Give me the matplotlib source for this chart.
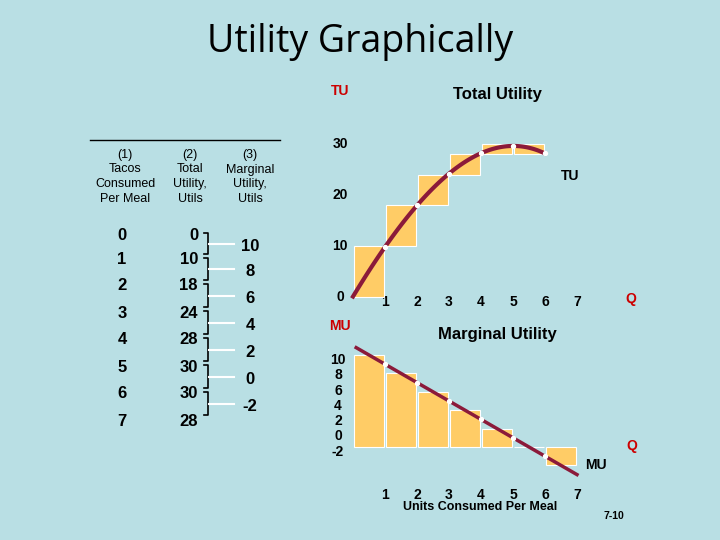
import matplotlib
matplotlib.use("Agg")
import matplotlib.pyplot as plt
import numpy as np

units = [0, 1, 2, 3, 4, 5, 6, 7]
total_utility = [0, 10, 18, 24, 28, 30, 30, 28]
marginal_utility = [10, 8, 6, 4, 2, 0, -2]
tu_ticks = [0, 10, 20, 30]
mu_ticks = [10, 8, 6, 4, 2, 0, -2]
q_labels = ["1", "2", "3", "4", "5", "6", "7"]

tu_bar_lo = [0, 10, 18, 24, 28, 28]
tu_bar_hi = [10, 18, 24, 28, 30, 30]
tu_curve = [0, 10, 18, 24, 28, 30, 28]

BG = "#b9dfe4"
BAR = "#ffcc66"
LINE = "#8b1a3a"
W, H = 720, 540
plt.rcParams["font.weight"] = "bold"
fig = plt.figure(figsize=(7.2, 5.4), dpi=100, facecolor=BG)

ov = fig.add_axes([0, 0, 1, 1])
ov.set_xlim(0, W); ov.set_ylim(H, 0); ov.axis("off")
ov.patch.set_alpha(0)

def T(x, y, s, **kw):
    kw.setdefault("ha", "center"); kw.setdefault("va", "center")
    kw.setdefault("family", "Liberation Sans")
    kw.setdefault("fontweight", "bold")
    ov.text(x, y, s, **kw)

T(360, 42, "Utility Graphically", fontsize=27, family="Open Sans", fontweight="normal")
ov.plot([90, 280], [140, 140], color="black", lw=1)
for x, lines in [(125, ["(1)", "Tacos", "Consumed", "Per Meal"]),
                 (190, ["(2)", "Total", "Utility,", "Utils"]),
                 (250, ["(3)", "Marginal", "Utility,", "Utils"])]:
    for k, s in enumerate(lines):
        T(x, 155 + k * 14.5, s, fontsize=9, fontweight="normal")
row_y = [235, 260, 286, 313, 340, 367, 394, 421]
for i, y in enumerate(row_y):
    T(122, y, str(units[i]), fontsize=12)
    T(198, y, str(total_utility[i]), fontsize=12, ha="right")
for i, mu in enumerate(marginal_utility):
    y0, y1 = row_y[i] - 4, row_y[i + 1] - 4
    ov.plot([204, 208, 208, 204], [y0 + 2, y0 + 2, y1 - 2, y1 - 2], color="black", lw=1.2)
    ym = (row_y[i] + row_y[i + 1]) / 2 - 4
    ov.plot([209, 234], [ym, ym], color="white", lw=1.5)
    T(250, ym + 3, str(mu), fontsize=12)

ax1 = fig.add_axes([300 / W, 1 - 320 / H, 350 / W, 200 / H])
ax1.set_xlim((300 - 353) / 32, (650 - 353) / 32)
ax1.set_ylim((297 - 320) / 5.1, (297 - 120) / 5.1)
ax1.axis("off")
for i, (lo, hi) in enumerate(zip(tu_bar_lo, tu_bar_hi)):
    ax1.bar(i + 0.5, hi - lo, bottom=lo, width=0.94, color=BAR, edgecolor="white", lw=0.8)
xc = np.arange(len(tu_curve))
coef = np.polyfit(xc, tu_curve, 3)
xs = np.linspace(0, 6, 100)
ax1.plot(xs, np.polyval(coef, xs), color=LINE, lw=3)
ax1.scatter(xc[1:], np.polyval(coef, xc[1:]), color="white", s=8, zorder=3)
for v in tu_ticks:
    T(340, 297 - 5.1 * v, str(v), fontsize=10)
for k, s in enumerate(q_labels):
    T(353 + 32 * (k + 1), 302, s, fontsize=10)
T(340, 91, "TU", fontsize=10, color="#cc0000")
T(497, 95, "Total Utility", fontsize=12)
T(570, 176, "TU", fontsize=10)
T(631, 299, "Q", fontsize=10, color="#cc0000")

ax2 = fig.add_axes([300 / W, 1 - 480 / H, 350 / W, 150 / H])
ax2.set_xlim((300 - 353) / 32, (650 - 353) / 32)
ax2.set_ylim((447 - 480) / 9.2, (447 - 330) / 9.2)
ax2.axis("off")
mx = np.arange(len(marginal_utility)) + 0.5
ax2.bar(mx, marginal_utility, width=0.94, color=BAR, edgecolor="white", lw=0.8)
c2 = np.polyfit(mx, marginal_utility, 1)
xs2 = np.linspace(0.1, 7, 10)
ax2.plot(xs2, np.polyval(c2, xs2), color=LINE, lw=2.5)
ax2.scatter(np.arange(1, 7), np.polyval(c2, np.arange(1, 7)), color="white", s=8, zorder=3)
for k, v in enumerate(mu_ticks):
    T(338, 360 + k * 15.3, str(v), fontsize=10)
for k, s in enumerate(q_labels):
    T(353 + 32 * (k + 1), 495, s, fontsize=10)
T(340, 326, "MU", fontsize=10, color="#cc0000")
T(497, 334, "Marginal Utility", fontsize=12)
T(596, 465, "MU", fontsize=10)
T(632, 446, "Q", fontsize=10, color="#cc0000")
T(480, 507, "Units Consumed Per Meal", fontsize=9)
T(614, 516, "7-10", fontsize=7.5)

fig.savefig("out.png", dpi=100, facecolor=BG)
